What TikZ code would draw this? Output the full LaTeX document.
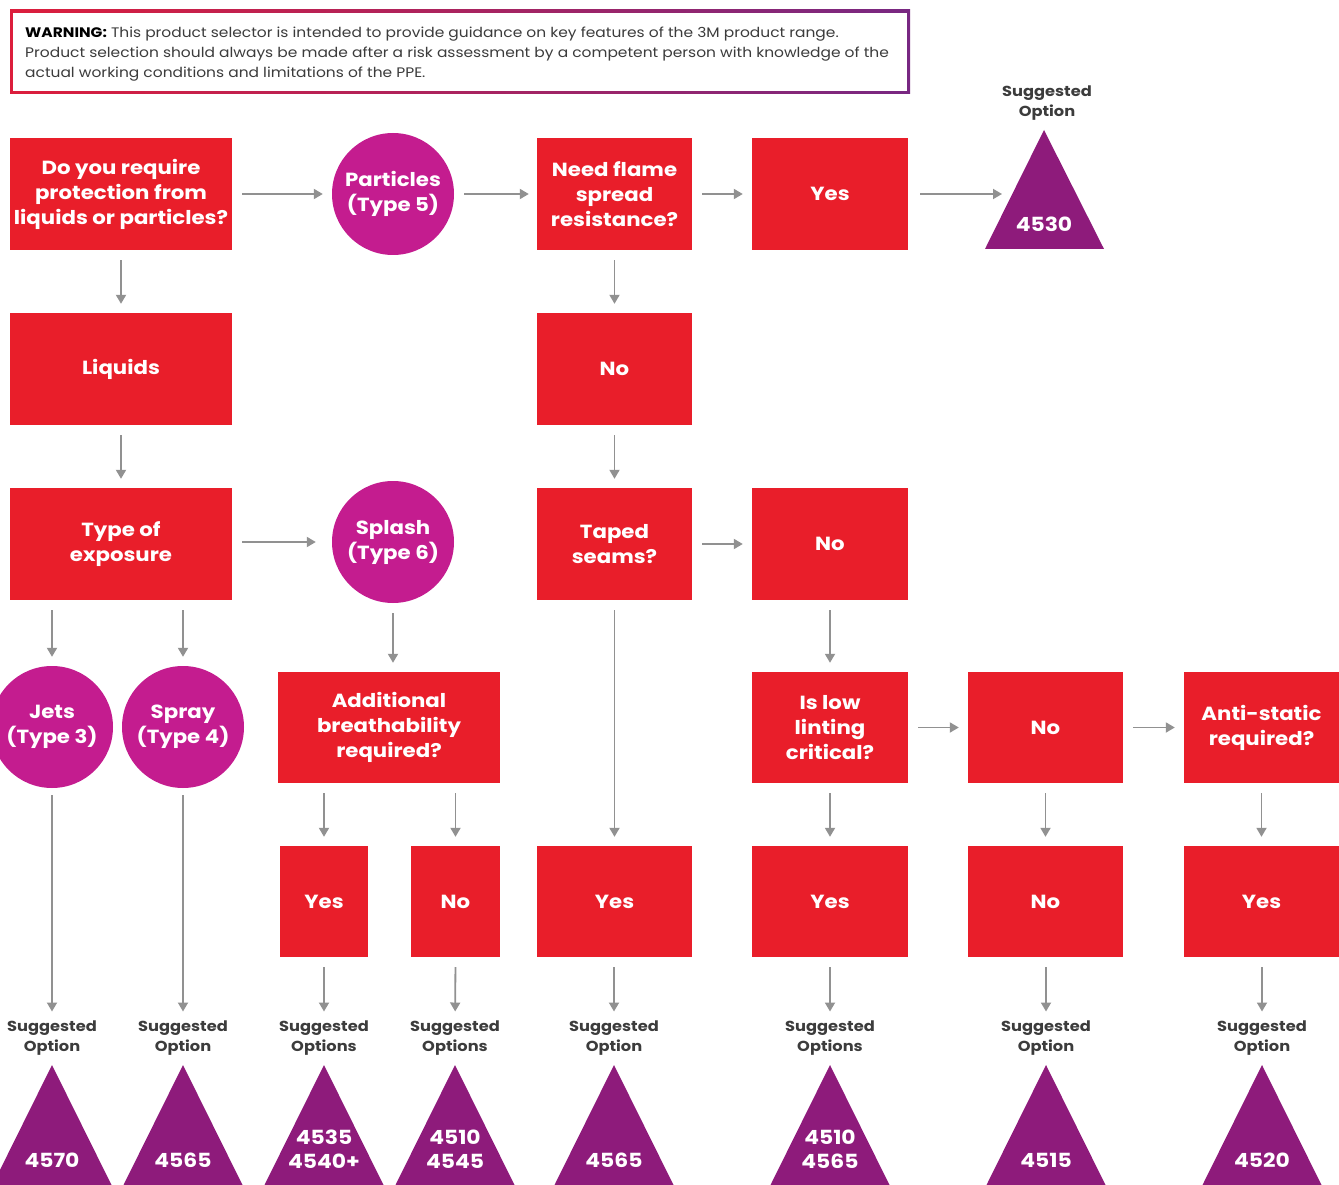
\documentclass[tikz,border=0pt]{standalone}
\usepackage{fontspec}
\setmainfont{Poppins}[FakeStretch=1.12]
\usetikzlibrary{arrows.meta}
\definecolor{boxred}{RGB}{233,30,42}
\definecolor{circmag}{RGB}{196,28,143}
\definecolor{tripurp}{RGB}{142,27,123}
\definecolor{arrgrey}{RGB}{145,145,145}
\definecolor{labgrey}{RGB}{60,60,60}
\definecolor{warnred}{RGB}{220,30,60}
\definecolor{warnpurp}{RGB}{120,40,130}
\begin{document}
\begin{tikzpicture}[x=1pt,y=-1pt,
  box/.style={fill=boxred,text=white,font=\bfseries\fontsize{19}{25}\selectfont,align=center,inner sep=0pt},
  circ/.style={circle,fill=circmag,text=white,font=\bfseries\fontsize{19}{25}\selectfont,align=center,inner sep=0pt,minimum size=122pt},
  arr/.style={draw=arrgrey,line width=1.8pt,-{Triangle[length=9pt,width=10pt]},shorten <=10pt,shorten >=9pt},
  sug/.style={font=\bfseries\fontsize{14.5}{20}\selectfont,text=labgrey,align=center,inner sep=0pt},
  trinum/.style={text=white,font=\bfseries\fontsize{19.5}{24}\selectfont,align=center,inner sep=0pt},
  tri/.style={fill=tripurp}]
\useasboundingbox (0,0) rectangle (1339,1185);
\fill[white] (0,0) rectangle (1339,1185);

% warning box
\shade[left color=warnred,right color=warnpurp] (10,10) rectangle (910,94);
\fill[white] (13,13) rectangle (907,91);
\node[anchor=north west,align=left,inner sep=0pt,text=labgrey,font=\fontsize{13.8}{20}\selectfont] (warn) at (25,26.5)
{{\bfseries\color{black}WARNING:} This product selector is intended to provide guidance on key features of the 3M product range.\\
Product selection should always be made after a risk  assessment by a competent person with knowledge of the\\
actual working conditions and limitations of the PPE.};

% row 1
\node[box,minimum width=222pt,minimum height=112pt] (q1) at (121,194) {Do you require\\protection from\\liquids or particles?};
\node[circ] (part) at (393,194) {Particles\\(Type 5)};
\node[box,minimum width=155pt,minimum height=112pt] (flame) at (614.5,194) {Need flame\\spread\\resistance?};
\node[box,minimum width=156pt,minimum height=112pt] (yes1) at (830,194) {Yes};
\fill[tri] (1044,130) -- (1104,249) -- (985,249) -- cycle;
\node[trinum] (t4530) at (1044,224) {4530};
\coordinate (t4530w) at (1002,194);
\node[sug] (s0) at (1047,103) {Suggested\\Option};

% row 2
\node[box,minimum width=222pt,minimum height=112pt] (liq) at (121,369) {Liquids};
\node[box,minimum width=155pt,minimum height=112pt] (no1) at (614.5,369) {No};

% row 3
\node[box,minimum width=222pt,minimum height=112pt] (type) at (121,544) {Type of\\exposure};
\node[circ] (splash) at (393,542) {Splash\\(Type 6)};
\node[box,minimum width=155pt,minimum height=112pt] (taped) at (614.5,544) {Taped\\seams?};
\node[box,minimum width=156pt,minimum height=112pt] (no2) at (830,544) {No};

% row 4
\node[circ] (jets) at (52,727) {Jets\\(Type 3)};
\node[circ] (spray) at (183,727) {Spray\\(Type 4)};
\node[box,minimum width=222pt,minimum height=111pt] (breath) at (389,727.5) {Additional\\breathability\\required?};
\node[box,minimum width=156pt,minimum height=111pt] (lint) at (830,727.5) {Is low\\linting\\critical?};
\node[box,minimum width=155pt,minimum height=111pt] (no3) at (1045.5,727.5) {No};
\node[box,minimum width=155pt,minimum height=111pt] (anti) at (1261.5,727.5) {Anti-static\\required?};

% row 5
\node[box,minimum width=88pt,minimum height=111pt] (yes2) at (324,901.5) {Yes};
\node[box,minimum width=89pt,minimum height=111pt] (no4) at (455.5,901.5) {No};
\node[box,minimum width=155pt,minimum height=111pt] (yes3) at (614.5,901.5) {Yes};
\node[box,minimum width=156pt,minimum height=111pt] (yes4) at (830,901.5) {Yes};
\node[box,minimum width=155pt,minimum height=111pt] (no5) at (1045.5,901.5) {No};
\node[box,minimum width=155pt,minimum height=111pt] (yes5) at (1261.5,901.5) {Yes};

% bottom suggested labels and triangles
\foreach \cx/\nm/\lab in {
  52/sa/Option,
  183/sb/Option,
  324/sc/Options,
  455/sd/Options,
  614/se/Option,
  830/sf/Options,
  1046/sg/Option,
  1262/sh/Option}{
  \node[sug] (\nm) at (\cx,1038) {Suggested\\\lab};
  \fill[tri] (\cx,1065) -- (\cx+60,1186) -- (\cx-60,1186) -- cycle;
}
\node[trinum] (n1) at (52,1160) {4570};
\node[trinum] (n2) at (183,1160) {4565};
\node[trinum] (n3) at (324,1149) {4535\\4540+};
\node[trinum] (n4) at (455,1149) {4510\\4545};
\node[trinum] (n5) at (614,1160) {4565};
\node[trinum] (n6) at (830,1149) {4510\\4565};
\node[trinum] (n7) at (1046,1160) {4515};
\node[trinum] (n8) at (1262,1160) {4520};

% connectors
\draw[arr] (q1) -- (part);
\draw[arr,shorten >=8pt] (part) -- (flame);
\draw[arr] (flame) -- (yes1);
\draw[arr,shorten <=12pt,shorten >=0pt] (yes1) -- (t4530w);
\draw[arr] (q1) -- (liq);
\draw[arr] (liq) -- (type);
\draw[arr] (flame) -- (no1);
\draw[arr] (no1) -- (taped);
\draw[arr,shorten >=16pt] (type.east |- splash) -- (splash);
\draw[arr] (taped.east |- no2) -- (no2);
\draw[arr] (type.south -| jets) -- (jets);
\draw[arr] (type.south -| spray) -- (spray);
\draw[arr] (splash) -- (splash |- breath.north);
\draw[arr] (no2) -- (lint);
\draw[arr] (taped) -- (yes3);
\draw[arr] (lint) -- (no3);
\draw[arr] (no3) -- (anti);
\draw[arr] (breath.south -| yes2) -- (yes2);
\draw[arr] (breath.south -| no4) -- (no4);
\draw[arr] (lint) -- (yes4);
\draw[arr] (no3) -- (no5);
\draw[arr] (anti) -- (yes5);
\draw[arr,shorten <=7pt] (jets) -- (sa);
\draw[arr,shorten <=7pt] (spray) -- (sb);
\draw[arr] (yes2) -- (sc);
\draw[arr] (no4.south) -- (sd);
\draw[arr] (yes3.south -| se) -- (se);
\draw[arr] (yes4) -- (sf);
\draw[arr] (no5.south -| sg) -- (sg);
\draw[arr] (yes5.south -| sh) -- (sh);
\end{tikzpicture}
\end{document}
